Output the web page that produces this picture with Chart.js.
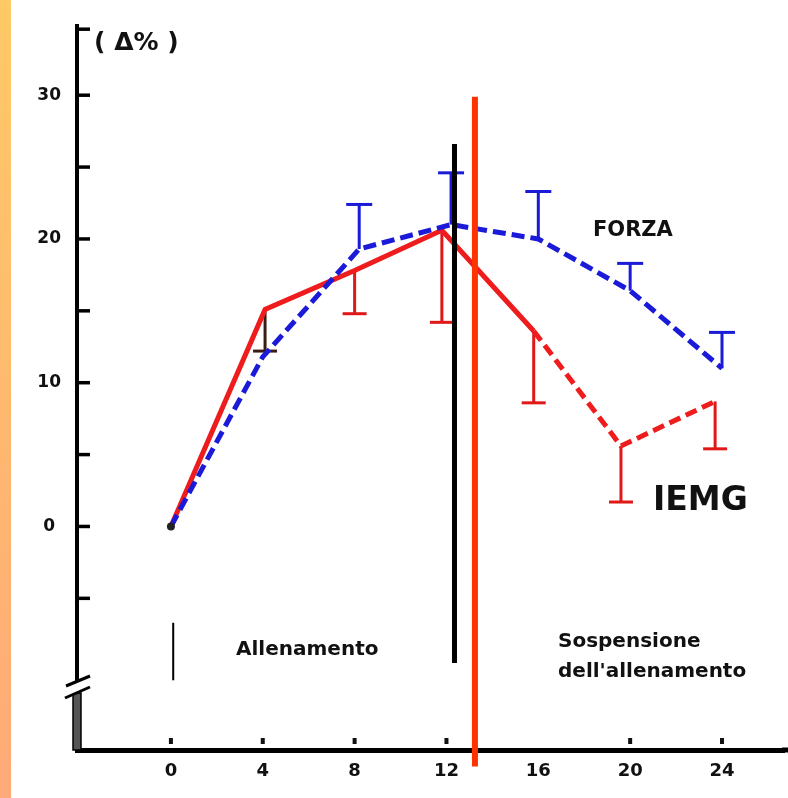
<!DOCTYPE html>
<html><head><meta charset="utf-8">
<script src="https://cdn.jsdelivr.net/npm/chart.js@4.4.1/dist/chart.umd.min.js"></script>
<style>html,body{margin:0;padding:0;background:#fff;overflow:hidden}#wrap{position:relative;width:788px;height:798px}</style>
</head><body><div id="wrap"><canvas id="c"></canvas></div>
<script>
// ---- data (weeks on x, % change on y) ----
const xTicks = [0, 4, 8, 12, 16, 20, 24];
const xMarks = [0, 4, 8, 12, 20, 24];
const yTicks = [-5, 0, 5, 10, 15, 20, 25, 30];
const yLabelValues = [0, 10, 20, 30];

const forzaWeeks  = [0, 4, 8.2, 12.2, 16, 20, 24];
const forzaValues = [0, 11.8, 19.3, 21.0, 20.0, 16.4, 11.0];
const forzaErrTop = [null, null, 22.4, 24.6, 23.3, 18.3, 13.5];

const iemgWeeks     = [0, 4.1, 8, 11.8, 15.8, 19.6, 23.7];
const iemgValues    = [0, 15.1, 17.8, 20.6, 13.6, 5.6, 8.7];
const iemgErrBottom = [null, 12.2, 14.8, 14.2, 8.6, 1.7, 5.4];

const trainingEndWeek = 12.35;   // black divider
const trainingEndSpan = [26.6, -9.5];
const markerWeek = 13.24;        // orange-red line
const markerSpan = [29.9, -16.7];
const startMarkWeek = 0.1;
const startMarkSpan = [-6.7, -10.7];

const X_MIN = -4.09, X_MAX = 26.7, Y_MIN = -15.55, Y_MAX = 34.8;
const FONT = "'DejaVu Sans', Verdana, sans-serif";

function line(c, x0, y0, x1, y1) { c.beginPath(); c.moveTo(x0, y0); c.lineTo(x1, y1); c.stroke(); }

const deco = {
  id: 'deco',
  beforeDraw(chart) {
    const c = chart.ctx;
    c.save();
    c.fillStyle = '#fff'; c.fillRect(0, 0, chart.width, chart.height);
    const g = c.createLinearGradient(0, 0, 0, chart.height);
    g.addColorStop(0, '#FFC966'); g.addColorStop(1, '#FFAA78');
    c.fillStyle = g; c.fillRect(0, 0, 11, chart.height);
    c.restore();
  },
  beforeDatasetsDraw(chart) {
    const x = chart.scales.x, y = chart.scales.y, c = chart.ctx;
    c.save();
    c.lineWidth = 3; c.lineCap = 'butt';
    forzaErrTop.forEach((v, i) => {
      if (v == null) return;
      const px = x.getPixelForValue(forzaWeeks[i]);
      c.strokeStyle = '#1a1ad8';
      line(c, px, y.getPixelForValue(forzaValues[i]), px, y.getPixelForValue(v));
      line(c, px - 13, y.getPixelForValue(v), px + 13, y.getPixelForValue(v));
    });
    iemgErrBottom.forEach((v, i) => {
      if (v == null) return;
      const px = x.getPixelForValue(iemgWeeks[i]);
      c.strokeStyle = i === 1 ? '#3a1c14' : '#e01818';
      line(c, px, y.getPixelForValue(iemgValues[i]), px, y.getPixelForValue(v));
      line(c, px - 12, y.getPixelForValue(v), px + 12, y.getPixelForValue(v));
    });
    c.restore();
  },
  afterDraw(chart) {
    const x = chart.scales.x, y = chart.scales.y, c = chart.ctx, a = chart.chartArea;
    c.save();
    // extend x axis line to the canvas edge
    c.strokeStyle = '#000'; c.lineWidth = 5;
    line(c, a.right - 2, a.bottom, chart.width, a.bottom);
    // inward y ticks
    c.lineWidth = 3.5;
    y.ticks.forEach(t => { const py = y.getPixelForValue(t.value); line(c, a.left, py, a.left + 13, py); });
    line(c, a.left, a.top + 3, a.left + 13, a.top + 3);
    // small x marks
    c.fillStyle = '#111';
    xMarks.forEach(v => { const px = x.getPixelForValue(v); c.fillRect(px - 2, a.bottom - 12, 4, 6); });
    // axis break
    const bx = a.left;
    c.fillStyle = '#555'; c.fillRect(bx - 4, 693, 8, a.bottom - 693);
    c.strokeStyle = '#000'; c.lineWidth = 1.5; c.strokeRect(bx - 4, 693, 8, a.bottom - 693);
    c.fillStyle = '#fff';
    c.beginPath(); c.moveTo(bx - 12, 687); c.lineTo(bx + 13, 677); c.lineTo(bx + 13, 687); c.lineTo(bx - 12, 697); c.closePath(); c.fill();
    c.strokeStyle = '#000'; c.lineWidth = 3;
    line(c, bx - 11, 686, bx + 13, 676);
    line(c, bx - 12, 698, bx + 13, 687);
    // start mark near week 0
    c.lineWidth = 2;
    const sx = x.getPixelForValue(startMarkWeek);
    line(c, sx, y.getPixelForValue(startMarkSpan[0]), sx, y.getPixelForValue(startMarkSpan[1]));
    // black divider
    c.lineWidth = 5; c.strokeStyle = '#000';
    const tx = x.getPixelForValue(trainingEndWeek);
    line(c, tx, y.getPixelForValue(trainingEndSpan[0]), tx, y.getPixelForValue(trainingEndSpan[1]));
    // texts
    c.fillStyle = '#111'; c.textBaseline = 'alphabetic'; c.textAlign = 'left';
    c.font = 'bold 25px ' + FONT; c.fillText('( Δ% )', 94, 50);
    c.font = 'bold 21px ' + FONT; c.fillText('FORZA', 593, 236);
    c.font = 'bold 33px ' + FONT; c.fillText('IEMG', 653, 510);
    c.font = 'bold 20px ' + FONT;
    c.fillText('Allenamento', 236, 655);
    c.fillText('Sospensione', 558, 647);
    c.fillText("dell'allenamento", 558, 677);
    // orange-red line
    c.strokeStyle = '#ff3300'; c.lineWidth = 6;
    const mx = x.getPixelForValue(markerWeek);
    line(c, mx, y.getPixelForValue(markerSpan[0]), mx, y.getPixelForValue(markerSpan[1]));
    c.restore();
  }
};

new Chart(document.getElementById('c'), {
  type: 'line',
  data: {
    datasets: [
      {
        label: 'FORZA',
        data: forzaWeeks.map((w, i) => ({ x: w, y: forzaValues[i] })),
        borderColor: '#1a1ad8', borderWidth: 5, borderDash: [13, 6],
        pointRadius: ctx => ctx.dataIndex === 0 ? 4 : 0,
        pointBackgroundColor: '#222', pointBorderWidth: 0, tension: 0, fill: false
      },
      {
        label: 'IEMG',
        data: iemgWeeks.map((w, i) => ({ x: w, y: iemgValues[i] })),
        borderColor: '#ee1c1c', borderWidth: 5, pointRadius: 0, tension: 0, fill: false,
        segment: { borderDash: ctx => ctx.p0.parsed.x >= 15 ? [12, 6] : undefined }
      }
    ]
  },
  options: {
    responsive: true, maintainAspectRatio: false, animation: false,
    layout: { padding: { top: 25, left: 0, right: 0, bottom: 0 } },
    plugins: { legend: { display: false }, tooltip: { enabled: false } },
    scales: {
      x: {
        type: 'linear', min: X_MIN, max: X_MAX,
        afterBuildTicks: s => { s.ticks = xTicks.map(v => ({ value: v })); },
        afterFit: s => { s.height = 48; },
        grid: { drawOnChartArea: false, drawTicks: false, color: 'rgba(0,0,0,0)' },
        border: { display: true, color: '#000', width: 5 },
        ticks: { color: '#111', font: { family: FONT, weight: 'bold', size: 18 }, padding: 11, autoSkip: false, maxRotation: 0 }
      },
      y: {
        type: 'linear', min: Y_MIN, max: Y_MAX,
        afterBuildTicks: s => { s.ticks = yTicks.map(v => ({ value: v })); },
        afterFit: s => { s.width = 77; },
        grid: { drawOnChartArea: false, drawTicks: false, color: 'rgba(0,0,0,0)' },
        border: { display: true, color: '#000', width: 4 },
        ticks: {
          color: '#111', font: { family: FONT, weight: 'bold', size: 17 }, padding: 16, crossAlign: 'center',
          callback: v => yLabelValues.includes(v) ? String(v) : ''
        }
      }
    }
  },
  plugins: [deco]
});
</script></body></html>
